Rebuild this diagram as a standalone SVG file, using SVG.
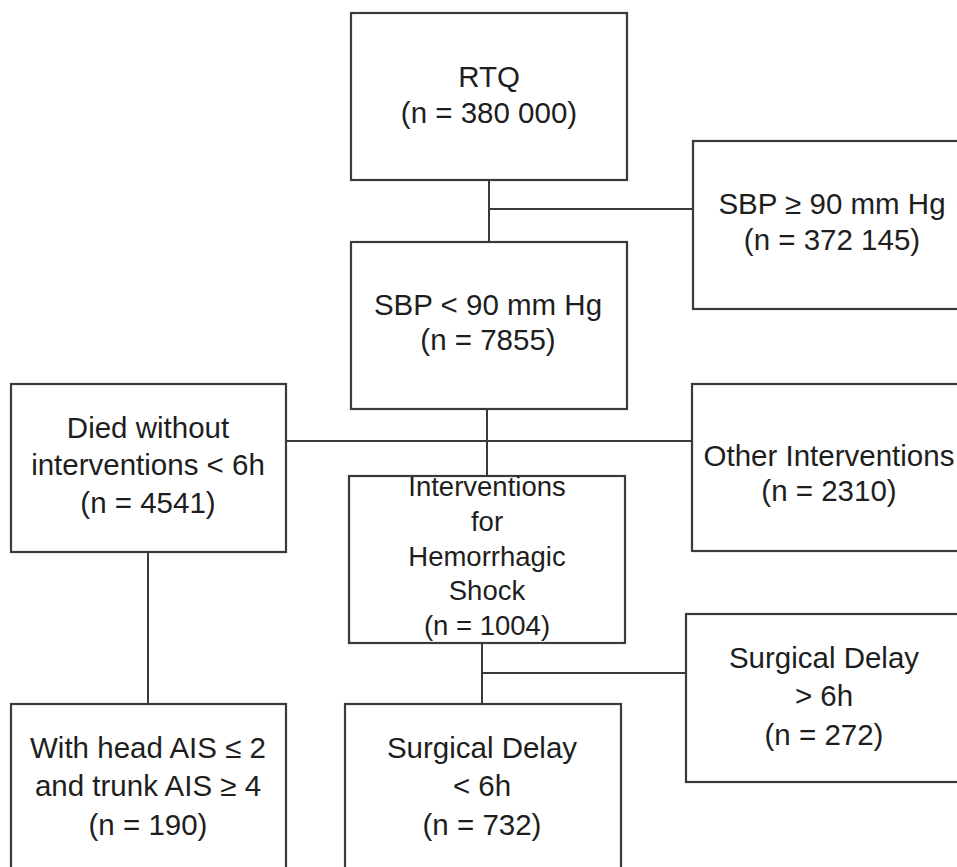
<svg xmlns="http://www.w3.org/2000/svg" width="957" height="867" viewBox="0 0 957 867">
<style>
.box{fill:#fff;stroke:#3a3a3a;stroke-width:2.2}
.ln{fill:none;stroke:#3a3a3a;stroke-width:2}
text{font-family:"Liberation Sans",Arial,sans-serif;font-size:29.5px;fill:#1e1e1e;text-anchor:middle}
.s{font-size:27.5px}
</style>
<rect width="957" height="867" fill="#fff"/>
<g id="connectors">
<path class="ln" d="M489 180V242M489 209H693"/>
<path class="ln" d="M487 409V477M286 441H692"/>
<path class="ln" d="M148 552V704"/>
<path class="ln" d="M482 643V704M482 673H686"/>
</g>
<g id="rtq"><rect class="box" x="351" y="13" width="276" height="167"/>
<text x="489" y="87">RTQ</text><text x="489" y="123">(n = 380 000)</text></g>
<g id="sbp-high"><rect class="box" x="693" y="141" width="290" height="168"/>
<text x="832" y="214">SBP ≥ 90 mm Hg</text><text x="832" y="250">(n = 372 145)</text></g>
<g id="sbp-low"><rect class="box" x="351" y="242" width="276" height="167"/>
<text x="488" y="315">SBP &lt; 90 mm Hg</text><text x="488" y="350">(n = 7855)</text></g>
<g id="died"><rect class="box" x="11" y="384" width="275" height="168"/>
<text x="148" y="438">Died without</text><text x="148" y="475">interventions &lt; 6h</text><text x="148" y="513">(n = 4541)</text></g>
<g id="other"><rect class="box" x="692" y="384" width="290" height="167"/>
<text x="829" y="466">Other Interventions</text><text x="829" y="501">(n = 2310)</text></g>
<g id="hemorrhagic"><rect class="box" x="349" y="476" width="276" height="167"/>
<text class="s" x="487" y="496">Interventions</text><text class="s" x="487" y="531">for</text><text class="s" x="487" y="566">Hemorrhagic</text><text class="s" x="487" y="600">Shock</text><text class="s" x="487" y="635">(n = 1004)</text></g>
<g id="delay-late"><rect class="box" x="686" y="614" width="290" height="168"/>
<text x="824" y="668">Surgical Delay</text><text x="824" y="706">&gt; 6h</text><text x="824" y="745">(n = 272)</text></g>
<g id="head-ais"><rect class="box" x="11" y="704" width="275" height="180"/>
<text x="148" y="758">With head AIS ≤ 2</text><text x="148" y="796">and trunk AIS ≥ 4</text><text x="148" y="835">(n = 190)</text></g>
<g id="delay-early"><rect class="box" x="345" y="704" width="276" height="180"/>
<text x="482" y="758">Surgical Delay</text><text x="482" y="796">&lt; 6h</text><text x="482" y="835">(n = 732)</text></g>
</svg>
